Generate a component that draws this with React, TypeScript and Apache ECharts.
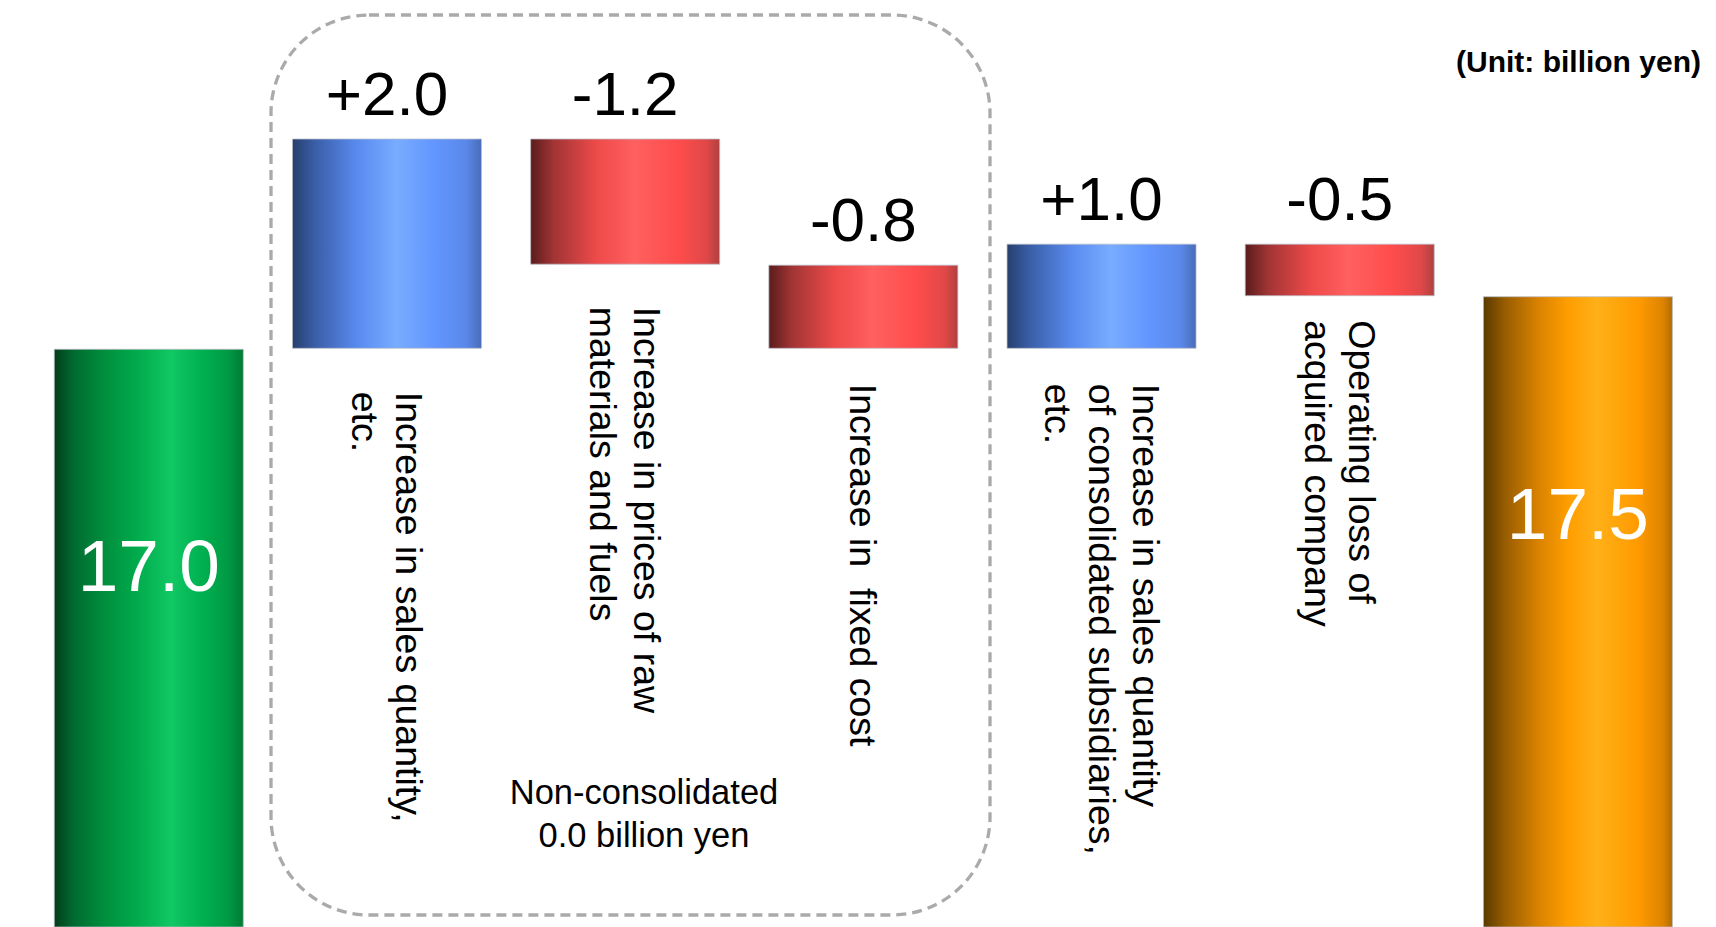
import { useEffect, useRef } from "react";
import * as echarts from "echarts";

// Operating income bridge (billion yen)
const startValue = 17.0;
const endValue = 17.5;
const stepNames = [
  "Increase in sales quantity,\netc.",
  "Increase in prices of raw\nmaterials and fuels",
  "Increase in  fixed cost",
  "Increase in sales quantity\nof consolidated subsidiaries,\netc.",
  "Operating loss of\nacquired company",
];
const stepDeltas = [2.0, -1.2, -0.8, 1.0, -0.5];
const unitText = "(Unit: billion yen)";
const noteText = "Non-consolidated\n0.0 billion yen";

const FONT = '"Liberation Sans", Arial, Helvetica, sans-serif';

// gap between each step bar and its rotated caption
const captionGap = [43, 42, 35, 35, 24];

type Stop = [number, string];
const hGrad = (stops: Stop[]) =>
  new echarts.graphic.LinearGradient(
    0,
    0,
    1,
    0,
    stops.map(([offset, color]) => ({ offset, color }))
  );

const GREEN: Stop[] = [
  [0, "#003d1a"],
  [0.1, "#006a30"],
  [0.25, "#008c3c"],
  [0.42, "#00a84a"],
  [0.62, "#10c864"],
  [0.78, "#00b050"],
  [0.92, "#009a44"],
  [1, "#007a36"],
];
const BLUE: Stop[] = [
  [0, "#263f6c"],
  [0.12, "#3a5ea8"],
  [0.35, "#5a8cf0"],
  [0.55, "#78acff"],
  [0.75, "#6296ff"],
  [0.92, "#5a88e8"],
  [1, "#4a6cb8"],
];
const RED: Stop[] = [
  [0, "#5a1c1c"],
  [0.12, "#a03434"],
  [0.35, "#ee4a4a"],
  [0.55, "#ff6060"],
  [0.78, "#ff4c4c"],
  [0.93, "#e04848"],
  [1, "#b04040"],
];
const ORANGE: Stop[] = [
  [0, "#5a3a00"],
  [0.12, "#9a5e00"],
  [0.3, "#dc8400"],
  [0.45, "#ff9e00"],
  [0.6, "#ffb018"],
  [0.82, "#ff9a00"],
  [0.95, "#dd8400"],
  [1, "#b06c00"],
];

const fmtDelta = (d: number) => (d > 0 ? "+" : "") + d.toFixed(1);

export default function App() {
  const ref = useRef<HTMLDivElement>(null);

  useEffect(() => {
    if (!ref.current) return;
    const chart = echarts.init(ref.current, null, { renderer: "svg" });

    // invisible base under each step so the step floats at the running level
    const bases: number[] = [];
    let level = startValue;
    stepDeltas.forEach((d) => {
      const next = Math.round((level + d) * 10) / 10;
      bases.push(Math.min(level, next));
      level = next;
    });

    const categories = ["start", ...stepNames.map((_, i) => "step" + i), "end"];
    const barBorder = { borderColor: "rgba(185,188,200,0.75)", borderWidth: 1 };

    const totalLabel = {
      position: "insideTop",
      distance: 217,
      verticalAlign: "middle",
      color: "#ffffff",
      fontSize: 73,
    };

    const baseData = [
      { value: 0, label: { show: false } },
      ...bases.map((b, i) => ({ value: b, label: { distance: captionGap[i] } })),
      { value: 0, label: { show: false } },
    ];

    const shownData = [
      {
        value: startValue,
        itemStyle: { color: hGrad(GREEN), ...barBorder },
        label: totalLabel,
      },
      ...stepDeltas.map((d) => ({
        value: Math.abs(d),
        itemStyle: { color: hGrad(d > 0 ? BLUE : RED), ...barBorder },
      })),
      {
        value: endValue,
        itemStyle: { color: hGrad(ORANGE), ...barBorder },
        label: totalLabel,
      },
    ];

    chart.setOption({
      animation: false,
      backgroundColor: "#ffffff",
      textStyle: { fontFamily: FONT },
      grid: { left: 29.7, right: 19, top: 33.4, bottom: -4 },
      xAxis: {
        type: "category",
        data: categories,
        show: false,
      },
      yAxis: {
        type: "value",
        min: 11.5,
        max: 20,
        show: false,
        splitLine: { show: false },
      },
      series: [
        {
          name: "base",
          type: "bar",
          stack: "bridge",
          barWidth: 190,
          silent: true,
          itemStyle: { color: "rgba(0,0,0,0)" },
          label: {
            show: true,
            position: "insideTop",
            rotate: -90,
            align: "left",
            verticalAlign: "middle",
            fontFamily: FONT,
            fontSize: 37.5,
            lineHeight: 44,
            color: "#000000",
            formatter: (p: any) => stepNames[p.dataIndex - 1] ?? "",
          },
          data: baseData,
        },
        {
          name: "value",
          type: "bar",
          stack: "bridge",
          barWidth: 190,
          label: {
            show: true,
            position: "top",
            distance: 14,
            fontFamily: FONT,
            fontSize: 62,
            color: "#000000",
            formatter: (p: any) => {
              const i = p.dataIndex;
              if (i === 0) return startValue.toFixed(1);
              if (i === categories.length - 1) return endValue.toFixed(1);
              return fmtDelta(stepDeltas[i - 1]);
            },
          },
          data: shownData,
        },
      ],
      graphic: [
        {
          type: "rect",
          shape: { x: 271, y: 15, width: 719, height: 900, r: 98 },
          style: {
            fill: "none",
            stroke: "#aaaaaa",
            lineWidth: 3.3,
            lineDash: [10, 6],
          },
          silent: true,
        },
        {
          type: "text",
          x: 644,
          y: 813,
          style: {
            text: noteText,
            fontFamily: FONT,
            fontSize: 34.5,
            lineHeight: 43,
            fill: "#000000",
            align: "center",
            verticalAlign: "middle",
          },
        },
        {
          type: "text",
          x: 1456,
          y: 61,
          style: {
            text: unitText,
            fontFamily: FONT,
            fontSize: 30,
            fontWeight: "bold",
            fill: "#000000",
            align: "left",
            verticalAlign: "middle",
          },
        },
      ],
    });

    return () => chart.dispose();
  }, []);

  return (
    <div
      ref={ref}
      style={{
        position: "fixed",
        left: 0,
        top: 0,
        width: 1716,
        height: 927,
        background: "#ffffff",
      }}
    />
  );
}
